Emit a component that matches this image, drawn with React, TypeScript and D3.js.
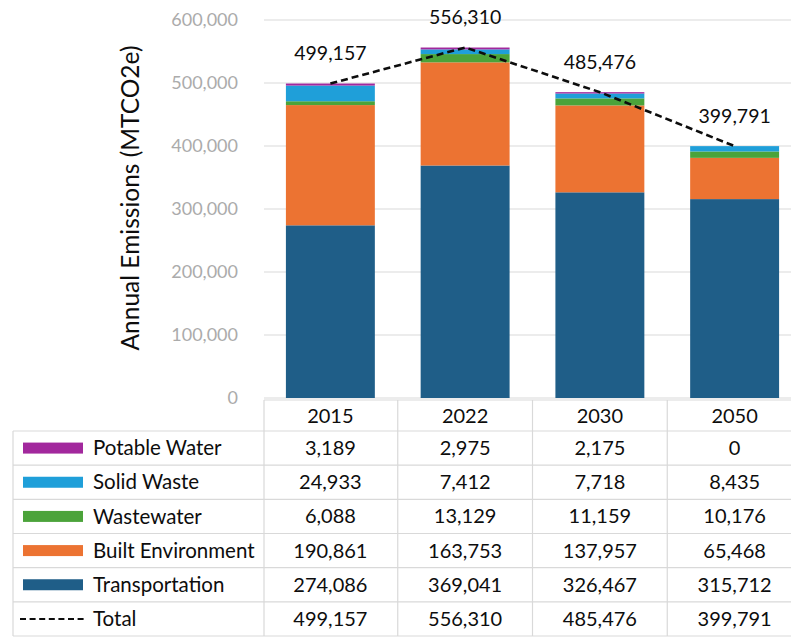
import React from 'react';
import * as d3 from 'd3';

// data
const years = ['2015', '2022', '2030', '2050'];
const seriesNames = ['Transportation', 'Built Environment', 'Wastewater', 'Solid Waste', 'Potable Water'];
const transportation = [274086, 369041, 326467, 315712];
const builtEnvironment = [190861, 163753, 137957, 65468];
const wastewater = [6088, 13129, 11159, 10176];
const solidWaste = [24933, 7412, 7718, 8435];
const potableWater = [3189, 2975, 2175, 0];
const totals = [499157, 556310, 485476, 399791];
const yTicks = [0, 100000, 200000, 300000, 400000, 500000, 600000];

const colors: Record<string, string> = {
  'Transportation': '#1f5e88',
  'Built Environment': '#ec7332',
  'Wastewater': '#4ba33a',
  'Solid Waste': '#1f9fd9',
  'Potable Water': '#a2289d',
};

// table rows, top to bottom
const tableRows = ['Potable Water', 'Solid Waste', 'Wastewater', 'Built Environment', 'Transportation', 'Total'];

const FONT = 'Lato, "Open Sans", sans-serif';
const W = 791;
const H = 637;

export default function App() {
  const valuesBySeries: Record<string, number[]> = {
    'Transportation': transportation,
    'Built Environment': builtEnvironment,
    'Wastewater': wastewater,
    'Solid Waste': solidWaste,
    'Potable Water': potableWater,
    'Total': totals,
  };

  const rows = years.map((yr, i) => {
    const r: Record<string, any> = { year: yr };
    seriesNames.forEach(s => { r[s] = valuesBySeries[s][i]; });
    return r;
  });

  const x = d3.scaleBand<string>()
    .domain(years)
    .range([263, 802])
    .paddingInner(0.34)
    .paddingOuter(0.17);

  const y = d3.scaleLinear()
    .domain([0, 600000])
    .range([398, 20]);

  const stacked = d3.stack<any>().keys(seriesNames)(rows);

  const line = d3.line<number>()
    .x((_, i) => (x(years[i]) as number) + x.bandwidth() / 2)
    .y(d => y(d));

  const rowY = d3.scaleBand<string>()
    .domain(tableRows)
    .range([431, 636]);

  const fmt = d3.format(',');
  const colStep = x.step();
  const colEdges = years.map((_, i) => 263 + i * colStep);
  const gridColor = '#d9d9d9';
  const ink = '#0d0d0d';

  return (
    <svg width={W} height={H} style={{ position: 'absolute', left: 0, top: 0, background: '#fff' }}>
      {/* gridlines */}
      {yTicks.map(t => (
        <line key={'g' + t} x1={264} x2={W} y1={y(t)} y2={y(t)} stroke={gridColor} strokeWidth={1.2} />
      ))}
      {/* tick labels */}
      {yTicks.map(t => (
        <text key={'t' + t} x={238} y={y(t)} dy="0.35em" textAnchor="end"
          fontFamily={FONT} fontSize={18} fill="#ababab">{fmt(t)}</text>
      ))}
      {/* y title */}
      <text transform={`translate(130,198) rotate(-90)`} textAnchor="middle" dy="0.35em"
        fontFamily={FONT} fontSize={24.5} fill={ink}>Annual Emissions (MTCO2e)</text>

      {/* stacked bars */}
      {stacked.map(layer => (
        <g key={layer.key} fill={colors[layer.key]}>
          {layer.map((d, i) => (
            <rect key={i} x={x(years[i])} width={x.bandwidth()}
              y={y(d[1])} height={Math.max(0, y(d[0]) - y(d[1]))} />
          ))}
        </g>
      ))}

      {/* total line */}
      <path d={line(totals) || ''} fill="none" stroke={ink} strokeWidth={2.6} strokeDasharray="7,4" />
      {totals.map((t, i) => (
        <text key={'tl' + i} x={(x(years[i]) as number) + x.bandwidth() / 2} y={y(t) - 30} dy="0.35em"
          textAnchor="middle" fontFamily={FONT} fontSize={19.5} fill={ink}>{fmt(t)}</text>
      ))}

      {/* data table */}
      <g>
        <line x1={264} x2={W} y1={400} y2={400} stroke={gridColor} strokeWidth={1.2} />
        {tableRows.map(r => (
          <line key={'rl' + r} x1={13} x2={W} y1={rowY(r)} y2={rowY(r)} stroke={gridColor} strokeWidth={1.2} />
        ))}
        <line x1={13} x2={W} y1={636} y2={636} stroke={gridColor} strokeWidth={1.2} />
        <line x1={13} x2={13} y1={431} y2={636} stroke={gridColor} strokeWidth={1.2} />
        {colEdges.map((cx, i) => (
          <line key={'cl' + i} x1={cx + (i === 0 ? 1 : 0)} x2={cx + (i === 0 ? 1 : 0)} y1={400} y2={636}
            stroke={gridColor} strokeWidth={1.2} />
        ))}
        {years.map(yr => (
          <text key={'h' + yr} x={(x(yr) as number) + x.bandwidth() / 2} y={415.5} dy="0.35em"
            textAnchor="middle" fontFamily={FONT} fontSize={20} fill={ink}>{yr}</text>
        ))}
        {tableRows.map(r => {
          const cy = (rowY(r) as number) + rowY.bandwidth() / 2;
          return (
            <g key={'row' + r}>
              {r === 'Total'
                ? <line x1={20} x2={87} y1={cy} y2={cy} stroke={ink} strokeWidth={2} strokeDasharray="6,3.6" />
                : <rect x={23} y={cy - 5.5} width={60} height={11} fill={colors[r]} />}
              <text x={93} y={cy} dy="0.35em" fontFamily={FONT} fontSize={20.5} fill={ink}>{r}</text>
              {valuesBySeries[r].map((v, i) => (
                <text key={i} x={(x(years[i]) as number) + x.bandwidth() / 2} y={cy} dy="0.35em"
                  textAnchor="middle" fontFamily={FONT} fontSize={20} fill={ink}>{fmt(v)}</text>
              ))}
            </g>
          );
        })}
      </g>
    </svg>
  );
}
